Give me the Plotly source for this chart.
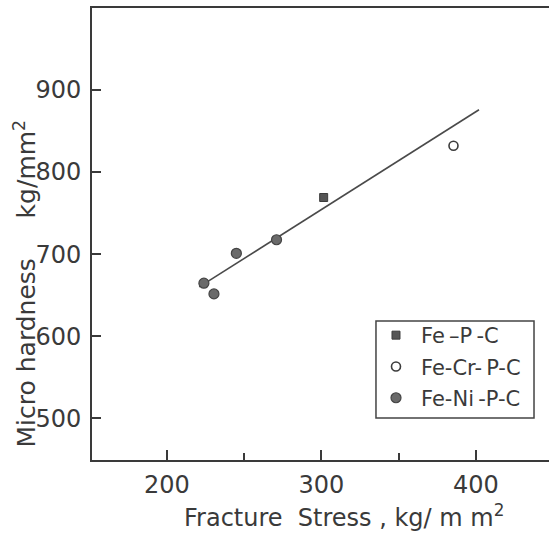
import plotly.graph_objects as go

# Measured data: fracture stress (kg/mm^2) vs microhardness (kg/mm^2)
fe_p_c_stress = [301.5]
fe_p_c_hard = [769]

fe_cr_p_c_stress = [385.5]
fe_cr_p_c_hard = [832]

fe_ni_p_c_stress = [224, 230.5, 245, 271]
fe_ni_p_c_hard = [664.5, 651.5, 701, 717.5]

# Fitted trend line end points
fit_stress = [221, 402]
fit_hard = [660, 876]

x_ticks = [200, 300, 400]
x_minor_ticks = [250, 350]
y_ticks = [500, 600, 700, 800, 900]

ink = "#3a3a3a"
font_family = "DejaVu Sans"

fig = go.Figure()

fig.add_trace(go.Scatter(
    x=fit_stress, y=fit_hard, mode="lines",
    line=dict(color="#4a4a4a", width=1.6),
    showlegend=False, hoverinfo="skip",
))

fig.add_trace(go.Scatter(
    x=fe_p_c_stress, y=fe_p_c_hard, mode="markers",
    name="Fe\u2009\u2013P\u2009-C",
    marker=dict(symbol="square", size=8, color="#555555",
                line=dict(color="#3c3c3c", width=1)),
    legendgroup="a",
))

fig.add_trace(go.Scatter(
    x=fe_cr_p_c_stress, y=fe_cr_p_c_hard, mode="markers",
    name="Fe-Cr-\u2009P-C",
    marker=dict(symbol="circle-open", size=9, color="#3c3c3c",
                line=dict(width=1.6)),
    legendgroup="b",
))

fig.add_trace(go.Scatter(
    x=fe_ni_p_c_stress, y=fe_ni_p_c_hard, mode="markers",
    name="Fe-Ni\u2009-P-C",
    marker=dict(symbol="circle", size=10, color="#6a6a6a",
                line=dict(color="#444444", width=1.2)),
    legendgroup="c",
))

fig.update_layout(
    width=549, height=533,
    margin=dict(l=92, r=0, t=8, b=73),
    paper_bgcolor="white", plot_bgcolor="white",
    font=dict(family=font_family, color=ink, size=24),
    legend=dict(
        x=0.6105, y=0.3208, xanchor="left", yanchor="top",
        borderwidth=0, bgcolor="rgba(0,0,0,0)",
        font=dict(size=21, color=ink),
        traceorder="grouped", tracegroupgap=1,
        itemsizing="trace", itemwidth=40,
    ),
    # frame around the key
    shapes=[
        dict(type="rect", xref="paper", yref="paper",
             x0=0.6214, x1=0.9672, y0=0.0929, y1=0.3075,
             line=dict(color="#444444", width=1.5),
             fillcolor="white", layer="above"),
    ],
    xaxis=dict(
        range=[151.6, 447.3], showgrid=False, zeroline=False,
        showline=True, linecolor=ink, linewidth=1.8, mirror=True,
        tickmode="array", tickvals=x_ticks,
        ticks="inside", ticklen=10, tickwidth=1.5, tickcolor=ink,
        minor=dict(tickmode="array", tickvals=x_minor_ticks,
                   ticks="inside", ticklen=7, tickwidth=1.5, tickcolor=ink),
        tickfont=dict(size=24, color=ink),
        ticklabelstandoff=2,
    ),
    yaxis=dict(
        range=[449, 1000], showgrid=False, zeroline=False,
        showline=True, linecolor=ink, linewidth=1.8, mirror=False,
        tickmode="array", tickvals=y_ticks,
        ticks="inside", ticklen=9, tickwidth=1.5, tickcolor=ink,
        tickfont=dict(size=24, color=ink),
        ticklabelstandoff=4,
    ),
    annotations=[
        dict(
            text="Micro hardness     kg/mm<sup>2</sup>",
            textangle=-90, xref="paper", yref="paper",
            x=-0.1466, y=0.3905, xanchor="center", yanchor="middle",
            showarrow=False, font=dict(size=25, color=ink),
        ),
        dict(
            text="Fracture  Stress , kg/ m m<sup>2</sup>",
            xref="paper", yref="paper",
            x=0.5514, y=-0.1239, xanchor="center", yanchor="middle",
            showarrow=False, font=dict(size=24, color=ink),
        ),
    ],
)

fig.write_html("out.html")
